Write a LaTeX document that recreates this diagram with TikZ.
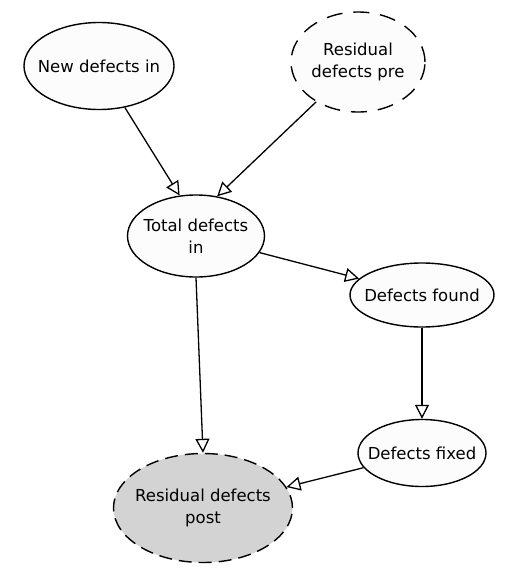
\documentclass[tikz,border=0pt]{standalone}
\usepackage{fontspec}
\setmainfont{DejaVu Sans}
\usetikzlibrary{arrows.meta,shapes.geometric}
\begin{document}
\begin{tikzpicture}[x=1pt,y=-1pt,
  var/.style={ellipse, draw, line width=1.4pt, fill={rgb,255:red,252;green,252;blue,252}, inner sep=0pt},
  dashedvar/.style={var, dash pattern=on 16pt off 11pt},
  lbl/.style={inner sep=0pt, align=center, font=\fontsize{16.5}{21.5}\selectfont},
  link/.style={line width=1.3pt, -{Triangle[open, length=14pt, width=14pt, fill=white]}}]
\useasboundingbox (0,0) rectangle (518,581);
\node[var, minimum width=150pt, minimum height=87pt] (new) at (99,66) {};
\node[lbl] (newl) at (new.center) {New defects in};
\node[dashedvar, minimum width=134pt, minimum height=100pt] (pre) at (358,62) {};
\node[lbl] (prel) at (pre.center) {Residual\\defects pre};
\node[var, minimum width=137pt, minimum height=82pt] (total) at (196,236) {};
\node[lbl] (totall) at (total.center) {Total defects\\in};
\node[var, minimum width=144pt, minimum height=64pt] (found) at (422,295) {};
\node[lbl] (foundl) at (found.center) {Defects found};
\node[var, minimum width=128pt, minimum height=67pt] (fixed) at (422,453) {};
\node[lbl] (fixedl) at (fixed.center) {Defects fixed};
\node[dashedvar, dash pattern=on 13pt off 7pt, fill={rgb,255:red,211;green,211;blue,211}, minimum width=179pt, minimum height=109pt] (post) at (203,508) {};
\node[lbl] (postl) at (post.center) {Residual defects\\post};
\draw[link] (new) -- (total.112);
\draw[link] (pre) -- (total.62);
\draw[link] (total) -- (found);
\draw[link] (total.south) -- (post.north);
\draw[link] (found) -- (fixed);
\draw[link] (fixed) -- (post);
\end{tikzpicture}
\end{document}
